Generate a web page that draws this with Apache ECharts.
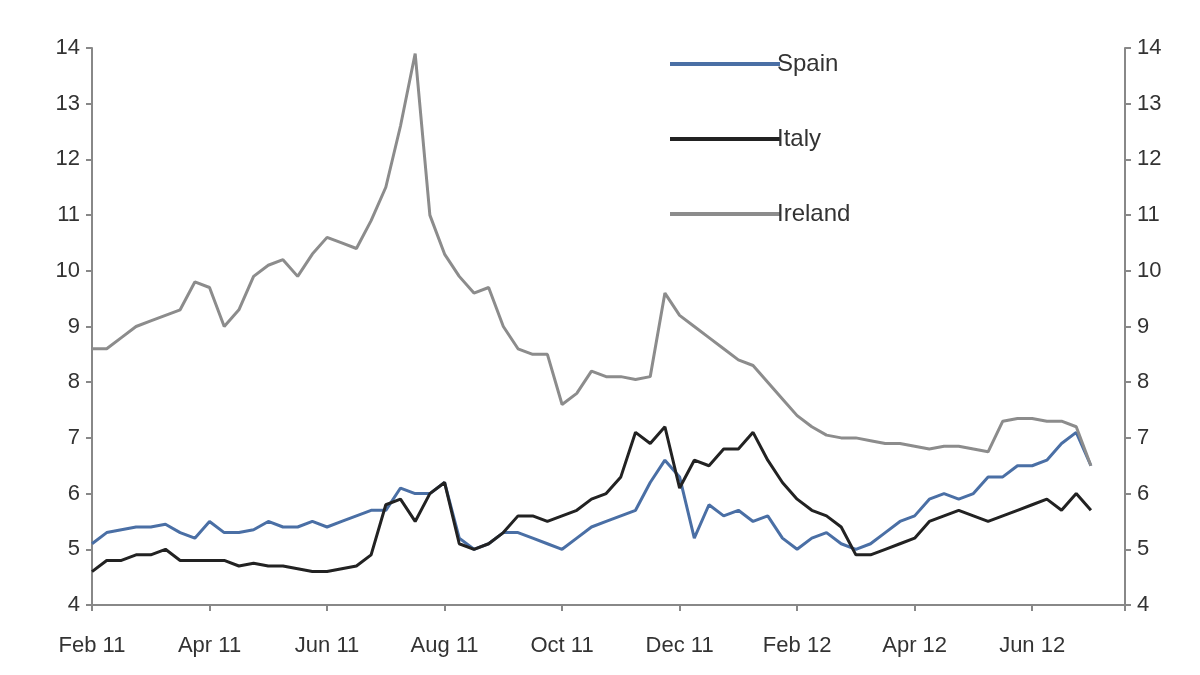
<!DOCTYPE html><html><head><meta charset="utf-8"><script src="https://cdn.jsdelivr.net/npm/echarts@6/dist/echarts.min.js"></script>
<style>body{margin:0}#c{width:1200px;height:675px}</style></head><body><div id="c"></div><script>
const monthLabels=['Feb 11','Mar 11','Apr 11','May 11','Jun 11','Jul 11','Aug 11','Sep 11','Oct 11','Nov 11','Dec 11','Jan 12','Feb 12','Mar 12','Apr 12','May 12','Jun 12','Jul 12'];
const weekStep=0.25; // months between observations
const spain=[5.1,5.3,5.35,5.4,5.4,5.45,5.3,5.2,5.5,5.3,5.3,5.35,5.5,5.4,5.4,5.5,5.4,5.5,5.6,5.7,5.7,6.1,6.0,6.0,6.2,
5.2,5.0,5.1,5.3,5.3,5.2,5.1,5.0,5.2,5.4,5.5,5.6,5.7,6.2,6.6,6.3,
5.2,5.8,5.6,5.7,5.5,5.6,5.2,5.0,5.2,5.3,5.1,5.0,5.1,5.3,5.5,5.6,5.9,6.0,5.9,6.0,6.3,6.3,6.5,6.5,6.6,6.9,7.1,6.5];
const italy=[4.6,4.8,4.8,4.9,4.9,5.0,4.8,4.8,4.8,4.8,4.7,4.75,4.7,4.7,4.65,4.6,4.6,4.65,4.7,4.9,5.8,5.9,5.5,6.0,6.2,
5.1,5.0,5.1,5.3,5.6,5.6,5.5,5.6,5.7,5.9,6.0,6.3,7.1,6.9,7.2,6.1,
6.6,6.5,6.8,6.8,7.1,6.6,6.2,5.9,5.7,5.6,5.4,4.9,4.9,5.0,5.1,5.2,5.5,5.6,5.7,5.6,5.5,5.6,5.7,5.8,5.9,5.7,6.0,5.7];
const ireland=[8.6,8.6,8.8,9.0,9.1,9.2,9.3,9.8,9.7,9.0,9.3,9.9,10.1,10.2,9.9,10.3,10.6,10.5,10.4,10.9,11.5,12.6,13.9,11.0,10.3,
9.9,9.6,9.7,9.0,8.6,8.5,8.5,7.6,7.8,8.2,8.1,8.1,8.05,8.1,9.6,9.2,
9.0,8.8,8.6,8.4,8.3,8.0,7.7,7.4,7.2,7.05,7.0,7.0,6.95,6.9,6.9,6.85,6.8,6.85,6.85,6.8,6.75,7.3,7.35,7.35,7.3,7.3,7.2,6.5];
const yTicks=[4,5,6,7,8,9,10,11,12,13,14];
const toPts=a=>a.map((v,i)=>[i*weekStep,v]);
const font='Liberation Sans';
const yAx=(pos)=>({type:'value',position:pos,min:4,max:14,interval:1,splitLine:{show:false},
 axisLine:{show:true,lineStyle:{color:'#888',width:2}},axisTick:{show:true,inside:false,length:6,lineStyle:{color:'#888',width:2}},
 axisLabel:{fontFamily:font,fontSize:22,color:'#333',margin:12}});
const ch=echarts.init(document.getElementById('c'));
ch.setOption({animation:false,backgroundColor:'#fff',
grid:{left:92,right:75,top:48,bottom:70},
legend:{orient:'vertical',left:665,top:47,itemGap:51,itemWidth:110,itemHeight:4,icon:'rect',
 textStyle:{fontFamily:font,fontSize:24,color:'#333',padding:[0,0,0,-8]},data:['Spain','Italy','Ireland']},
xAxis:{type:'value',min:0,max:17.58,interval:2,splitLine:{show:false},
 axisLine:{lineStyle:{color:'#888',width:2}},axisTick:{length:6,lineStyle:{color:'#888',width:2}},
 axisLabel:{fontFamily:font,fontSize:22,color:'#333',margin:30,formatter:v=>monthLabels[Math.round(v)]||''}},
yAxis:[yAx('left'),yAx('right')],
series:[
 {name:'Spain',type:'line',data:toPts(spain),showSymbol:false,lineStyle:{color:'#4a6fa5',width:3},itemStyle:{color:'#4a6fa5'}},
 {name:'Italy',type:'line',data:toPts(italy),showSymbol:false,lineStyle:{color:'#222',width:3},itemStyle:{color:'#222'}},
 {name:'Ireland',type:'line',data:toPts(ireland),showSymbol:false,lineStyle:{color:'#8c8c8c',width:3},itemStyle:{color:'#8c8c8c'}}
]});
</script></body></html>
